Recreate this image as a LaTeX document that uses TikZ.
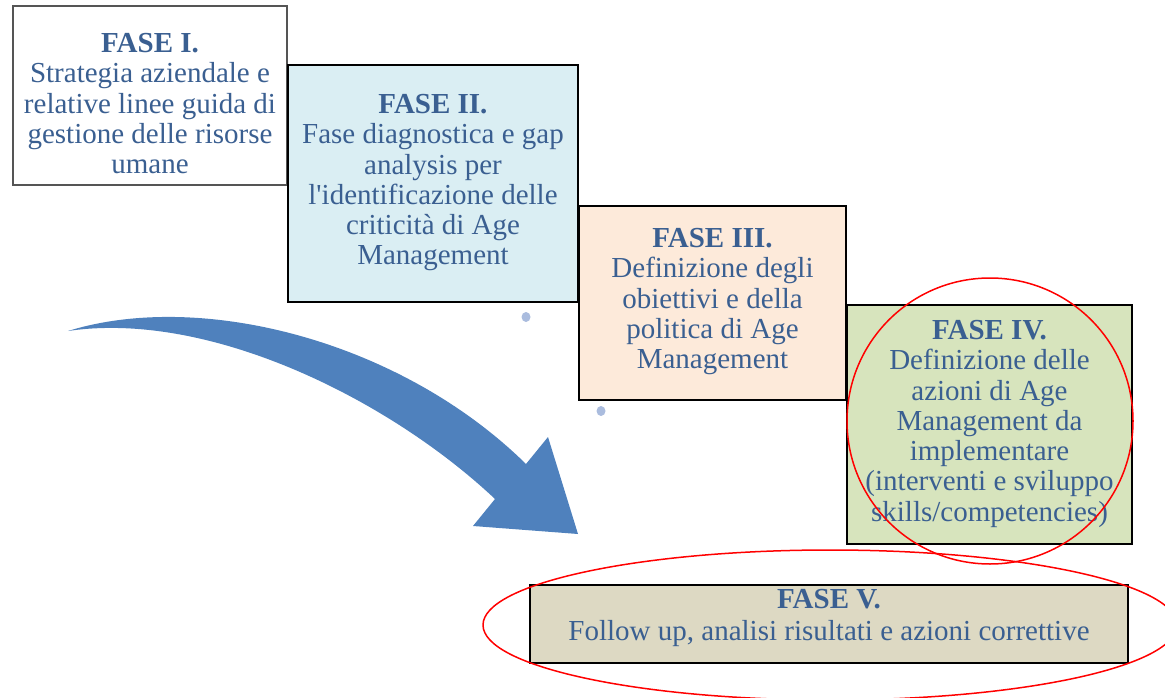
\documentclass[tikz,border=0pt]{standalone}
\usepackage{fontspec}
\setmainfont{Liberation Serif}
\definecolor{txtblue}{RGB}{58,95,145}
\definecolor{fillII}{RGB}{218,238,243}
\definecolor{fillIII}{RGB}{253,234,218}
\definecolor{fillIV}{RGB}{215,228,189}
\definecolor{fillV}{RGB}{221,217,195}
\definecolor{arrowblue}{RGB}{79,129,189}
\definecolor{dotblue}{RGB}{170,188,222}
\tikzset{
  phasebox/.style={draw=black, line width=1.5pt, inner sep=0pt, rectangle},
  phasetxt/.style={text=txtblue, align=center, inner sep=0pt, anchor=north,
    font=\fontsize{29}{30.3}\selectfont},
  redring/.style={draw=red, line width=1.5pt},
}
\begin{document}
\begin{tikzpicture}[x=1pt,y=-1pt]
\useasboundingbox (0,0) rectangle (1165,698);
% arrow
\fill[arrowblue] (68,331) .. controls (200,290) and (400,340) .. (526,464)
  -- (548,437) -- (578,534) -- (473,526) -- (495,499)
  .. controls (390,400) and (210,310) .. (68,331) -- cycle;
% dots
\fill[dotblue] (526,317) ellipse [x radius=4.5pt, y radius=5pt];
\fill[dotblue] (601,411) ellipse [x radius=4.5pt, y radius=5pt];
% boxes
\node[phasebox, draw={rgb,255:red,85;green,85;blue,85}, line width=1.2pt, fill=white,
  minimum width=274pt, minimum height=179pt] (b1) at (150,95.5) {};
\node[phasebox, fill=fillII, minimum width=290pt, minimum height=237pt] (b2) at (433,183.5) {};
\node[phasebox, fill=fillIII, minimum width=267pt, minimum height=194pt] (b3) at (712.5,303) {};
\node[phasebox, fill=fillIV, minimum width=285pt, minimum height=239pt] (b4) at (989.5,424.5) {};
\node[phasebox, fill=fillV, line width=2pt, minimum width=598pt, minimum height=78pt] (b5) at (829,624) {};
% texts
\node[phasetxt] (t1) at (150,33) {\textbf{FASE I.}\\Strategia aziendale e\\relative linee guida di\\gestione delle risorse\\umane};
\node[phasetxt] (t2) at (433,94) {\textbf{FASE II.}\\Fase diagnostica e gap\\analysis per\\l\textquotesingle identificazione delle\\criticità di Age\\Management};
\node[phasetxt] (t3) at (712.5,228) {\textbf{FASE III.}\\Definizione degli\\obiettivi e della\\politica di Age\\Management};
\node[phasetxt] (t4) at (989.5,320) {\textbf{FASE IV.}\\Definizione delle\\azioni di Age\\Management da\\implementare\\(interventi e sviluppo\\skills/competencies)};
\node[phasetxt, font=\fontsize{29}{32}\selectfont] (t5) at (829,589) {\textbf{FASE V.}\\Follow up, analisi risultati e azioni correttive};
% red rings
\draw[redring] (990,421) circle [radius=143pt];
\draw[redring] (830,625) ellipse [x radius=347pt, y radius=75pt];
\end{tikzpicture}
\end{document}
